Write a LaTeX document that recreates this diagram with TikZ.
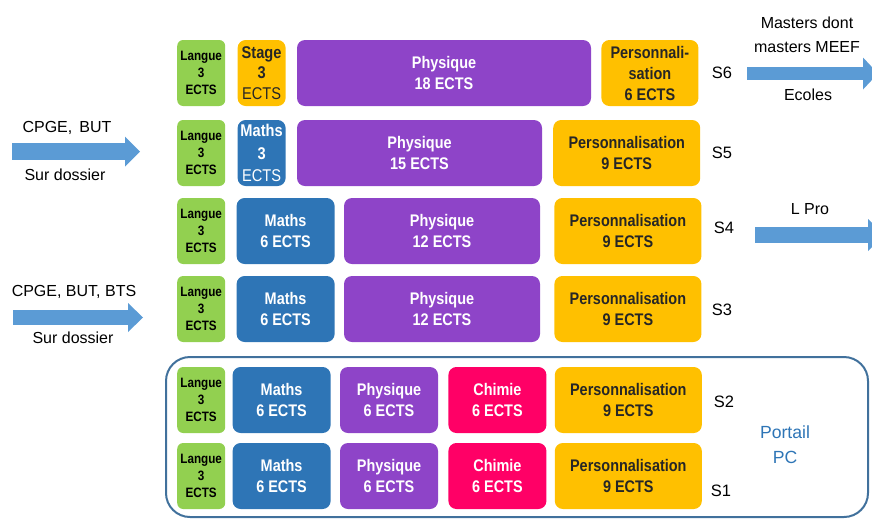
\documentclass[tikz,border=0pt]{standalone}
\usepackage{fontspec}
\setmainfont{Liberation Sans}
\newfontfamily\boxfont{Liberation Sans}[FakeStretch=0.86]
\usetikzlibrary{shapes, arrows.meta, backgrounds, positioning}

\definecolor{cgreen}{HTML}{92D050}
\definecolor{corange}{HTML}{FFC000}
\definecolor{cblue}{HTML}{2E75B6}
\definecolor{cpurple}{HTML}{8E44C8}
\definecolor{cpink}{HTML}{FF0066}
\definecolor{carrow}{HTML}{5B9BD5}
\definecolor{cframe}{HTML}{41719C}

\begin{document}
\begin{tikzpicture}[x=1pt, y=-1pt,
  box/.style={rounded corners=8pt, align=center, inner sep=1pt, minimum height=66pt,
    font=\boxfont\bfseries\fontsize{16.8}{21.5}\selectfont},
  langue/.style={box, fill=cgreen, minimum width=48pt, rounded corners=6pt,
    font=\boxfont\bfseries\fontsize{13.6}{17}\selectfont},
  maths/.style={box, fill=cblue, text=white},
  phys/.style={box, fill=cpurple, text=white},
  chim/.style={box, fill=cpink, text=white, minimum width=98pt},
  perso/.style={box, fill=corange, text=black!85},
  side/.style={font=\fontsize{16}{24}\selectfont, align=center},
  sem/.style={font=\fontsize{16.5}{20}\selectfont},
  bigarrow/.style={draw=carrow, line width=#1}
]
  \useasboundingbox (0,0) rectangle (872,520);

  %%%%%%%%%%%%%%%%%% portail
  \node (portail) [draw=cframe, line width=2pt, rounded corners=24pt,
    minimum width=702pt, minimum height=160pt] at (517,437) {};
  \node () at (785,445) [font=\fontsize{17.6}{25}\selectfont, text=cblue, align=center] {Portail\\PC};

  %%%%%%%%%%%%%%%%%% S6
  \node (lang6) [langue, anchor=west] at (177,73) {Langue\\3\\ECTS};
  \node (stage6) [perso, minimum width=48pt, right=12pt of lang6,
    font=\boxfont\fontsize{17}{20.5}\selectfont] {\textbf{Stage}\\\textbf{3}\\ECTS};
  \node (phys6) [phys, minimum width=294pt, right=11pt of stage6] {Physique\\18 ECTS};
  \node (perso6) [perso, minimum width=97pt, right=10pt of phys6,
    font=\boxfont\bfseries\fontsize{16.8}{21}\selectfont] {Personnali-\\sation\\6 ECTS};
  \node (s6) [sem] at (722,73) {S6};

  %%%%%%%%%%%%%%%%%% S5
  \node (lang5) [langue, anchor=west] at (177,153) {Langue\\3\\ECTS};
  \node (maths5) [maths, minimum width=48pt, right=12pt of lang5,
    font=\boxfont\fontsize{17}{22.5}\selectfont] {\textbf{Maths}\\\textbf{3}\\ECTS};
  \node (phys5) [phys, minimum width=245pt, right=11pt of maths5] {Physique\\15 ECTS};
  \node (perso5) [perso, minimum width=147pt, anchor=west] at (553,153) {Personnalisation\\9 ECTS};
  \node (s5) [sem] at (722,153) {S5};

  %%%%%%%%%%%%%%%%%% S4
  \node (lang4) [langue, anchor=west] at (177,231) {Langue\\3\\ECTS};
  \node (maths4) [maths, minimum width=98pt, right=11pt of lang4] {Maths\\6 ECTS};
  \node (phys4) [phys, minimum width=196pt, right=9pt of maths4] {Physique\\12 ECTS};
  \node (perso4) [perso, minimum width=147pt, right=14pt of phys4] {Personnalisation\\9 ECTS};
  \node (s4) [sem] at (724,228) {S4};

  %%%%%%%%%%%%%%%%%% S3
  \node (lang3) [langue, anchor=west] at (177,309) {Langue\\3\\ECTS};
  \node (maths3) [maths, minimum width=98pt, right=11pt of lang3] {Maths\\6 ECTS};
  \node (phys3) [phys, minimum width=196pt, right=9pt of maths3] {Physique\\12 ECTS};
  \node (perso3) [perso, minimum width=147pt, right=14pt of phys3] {Personnalisation\\9 ECTS};
  \node (s3) [sem] at (722,310) {S3};

  %%%%%%%%%%%%%%%%%% S2
  \node (lang2) [langue, anchor=west] at (177,400) {Langue\\3\\ECTS};
  \node (maths2) [maths, minimum width=98pt, right=7pt of lang2] {Maths\\6 ECTS};
  \node (phys2) [phys, minimum width=98pt, right=9pt of maths2] {Physique\\6 ECTS};
  \node (chim2) [chim, right=10pt of phys2] {Chimie\\6 ECTS};
  \node (perso2) [perso, minimum width=147pt, right=8pt of chim2] {Personnalisation\\9 ECTS};
  \node (s2) [sem] at (724,402) {S2};

  %%%%%%%%%%%%%%%%%% S1
  \node (lang1) [langue, anchor=west] at (177,476) {Langue\\3\\ECTS};
  \node (maths1) [maths, minimum width=98pt, right=7pt of lang1] {Maths\\6 ECTS};
  \node (phys1) [phys, minimum width=98pt, right=9pt of maths1] {Physique\\6 ECTS};
  \node (chim1) [chim, right=10pt of phys1] {Chimie\\6 ECTS};
  \node (perso1) [perso, minimum width=147pt, right=8pt of chim1] {Personnalisation\\9 ECTS};
  \node (s1) [sem] at (721,491) {S1};

  %%%%%%%%%%%%%%%%%% entrees
  \node (cpge1) [side] at (67,128) {CPGE,\, BUT};
  \node (dossier1) [side] at (65,175) {Sur dossier};
  \coordinate (in1s) at (12,151.5);
  \coordinate (in1e) at (140,151.5);

  \node (cpge2) [side] at (74,292) {CPGE, BUT, BTS};
  \node (dossier2) [side] at (73,338) {Sur dossier};
  \coordinate (in2s) at (13,317.5);
  \coordinate (in2e) at (143,317.5);

  %%%%%%%%%%%%%%%%%% sorties
  \node (masters) [side] at (807,35) {Masters dont\\masters MEEF};
  \node (ecoles) [side] at (808,95) {Ecoles};
  \coordinate (out6s) at (747,73.5);
  \coordinate (out6e) at (878,73.5);

  \node (lpro) [side] at (810,209) {L Pro};
  \coordinate (out4s) at (755,235);
  \coordinate (out4e) at (884,235);

  %%%%%%%%%%%%%%%%%%%%
  \draw [bigarrow=17pt, -{Triangle[width=30pt, length=15pt, line width=0pt]}] (in1s) -- (in1e);
  \draw [bigarrow=15pt, -{Triangle[width=29pt, length=15pt, line width=0pt]}] (in2s) -- (in2e);
  \draw [bigarrow=13pt, -{Triangle[width=32pt, length=15pt, line width=0pt]}] (out6s) -- (out6e);
  \draw [bigarrow=16pt, -{Triangle[width=32pt, length=16pt, line width=0pt]}] (out4s) -- (out4e);

\end{tikzpicture}
\end{document}
